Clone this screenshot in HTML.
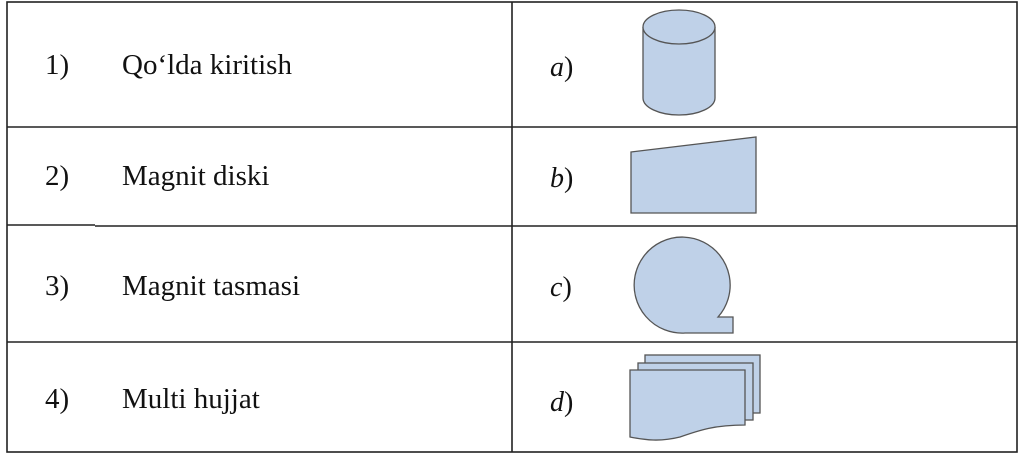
<!DOCTYPE html>
<html><head><meta charset="utf-8"><style>
html,body{margin:0;padding:0;background:#fff;width:1024px;height:459px;overflow:hidden}
</style></head><body>
<svg width="1024" height="459" xmlns="http://www.w3.org/2000/svg" style="position:absolute;left:0;top:0">
<g stroke="#222" stroke-width="1.6" fill="none">
<rect x="7" y="2" width="1010" height="450"/>
<line x1="512" y1="2" x2="512" y2="452"/>
<line x1="7" y1="127" x2="1017" y2="127"/>
<line x1="7" y1="225" x2="95" y2="225"/>
<line x1="95" y1="226" x2="1017" y2="226"/>
<line x1="7" y1="342" x2="1017" y2="342"/>
</g>
<g font-family="Liberation Serif, serif" font-size="29" fill="#111">
<text x="45" y="74">1)</text><text x="122" y="74">Qo‘lda kiritish</text>
<text x="45" y="185">2)</text><text x="122" y="185">Magnit diski</text>
<text x="45" y="295">3)</text><text x="122" y="295">Magnit tasmasi</text>
<text x="45" y="408">4)</text><text x="122" y="408">Multi hujjat</text>
</g>
<g font-family="Liberation Serif, serif" font-size="28" fill="#111">
<text x="550" y="76"><tspan font-style="italic">a</tspan>)</text>
<text x="550" y="187"><tspan font-style="italic">b</tspan>)</text>
<text x="550" y="296"><tspan font-style="italic">c</tspan>)</text>
<text x="550" y="411"><tspan font-style="italic">d</tspan>)</text>
</g>
<g fill="#bfd1e8" stroke="#555" stroke-width="1.3">
<path d="M643,27 L643,98 A36,17 0 0 0 715,98 L715,27"/>
<ellipse cx="679" cy="27" rx="36" ry="17"/>
<polygon points="631,152 756,137 756,213 631,213"/>
<path d="M685,333 A48,48 0 1 1 718,317 L733,317 L733,333 Z"/>
<rect x="645" y="355" width="115" height="58"/>
<rect x="638" y="363" width="115" height="57"/>
<path d="M630,370 L745,370 L745,425 C715,425 700,430 680,437 C660,442 645,440 630,437 Z"/>
</g>
</svg>
</body></html>
